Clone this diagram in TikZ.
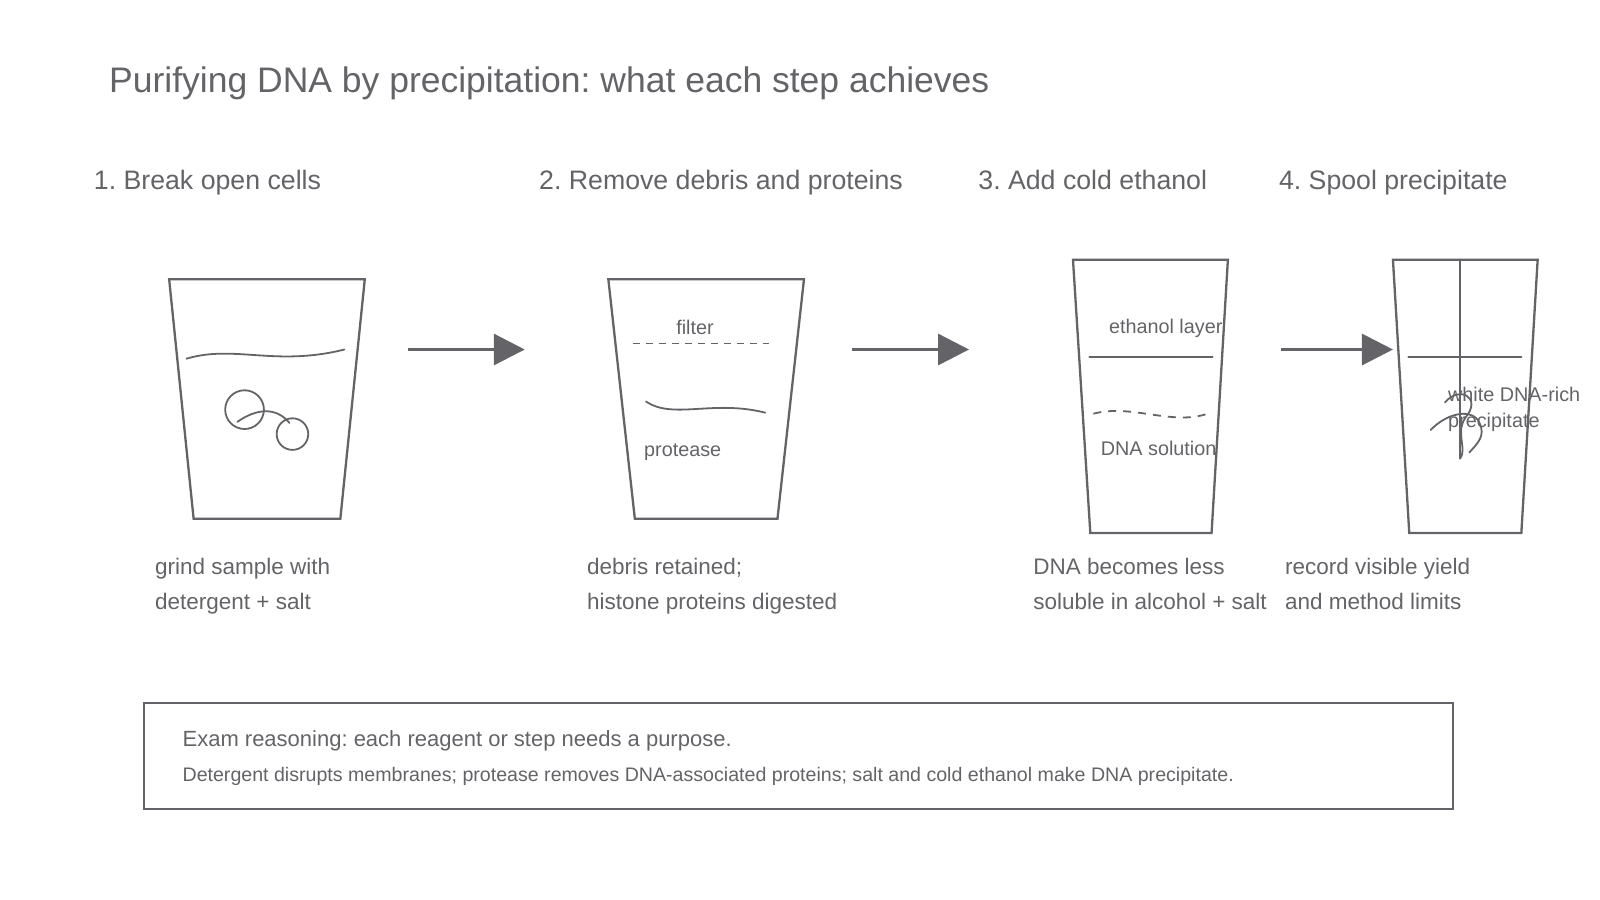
\documentclass[tikz,border=0pt]{standalone}
\usepackage{fontspec}
\setmainfont{Liberation Sans}
\usetikzlibrary{arrows.meta}
\definecolor{ink}{HTML}{646468}
\frenchspacing
\begin{document}
\begin{tikzpicture}[x=1.019pt,y=-1.019pt,
  every node/.style={text=ink,inner sep=0pt},
  glass/.style={draw=ink,line width=2.3pt,line join=miter},
  thin/.style={draw=ink,line width=1.8pt,line cap=round},
  flow/.style={draw=ink,line width=3.2pt,-{Triangle[length=31pt,width=31pt]}},
  head/.style={anchor=base west,font=\fontsize{26.7}{30}\selectfont},
  captxt/.style={anchor=north west,align=left,font=\fontsize{22.5}{35}\selectfont},
  lab/.style={font=\fontsize{19.8}{26}\selectfont}]
\useasboundingbox (0,0) rectangle (1570.2,883.2);
\node[anchor=base west,font=\fontsize{35.5}{40}\selectfont] (title) at (107,91) {Purifying DNA by precipitation: what each step achieves};
\node[head] (h1) at (92,186) {1. Break open cells};
\node[head] (h2) at (529,186) {2. Remove debris and proteins};
\node[head] (h3) at (960,186) {3. Add cold ethanol};
\node[head] (h4) at (1255,186) {4. Spool precipitate};
% beaker 1
\draw[glass] (166,274) -- (358,274) -- (334,509) -- (190,509) -- cycle;
\draw[thin] (183,352) .. controls (230,338) and (270,360) .. (338,343);
\draw[thin] (240,402) circle (19);
\draw[thin] (287,426) circle (15.5);
\draw[thin] (233,414) .. controls (250,402) and (270,398) .. (284,415);
% beaker 2
\draw[glass] (597,274) -- (789,274) -- (763,509) -- (623,509) -- cycle;
\draw[thin,dash pattern=on 7pt off 6pt,line cap=butt] (621,337) -- (755,337);
\node[lab] (f) at (682,321) {filter};
\draw[thin] (634,394) .. controls (660,412) and (700,392) .. (751,405);
\node[lab] (p) at (670,444) {protease};
% beaker 3
\draw[glass] (1053,255) -- (1205,255) -- (1189,523) -- (1070,523) -- cycle;
\draw[thin] (1069,350) -- (1190,350);
\node[lab] (e) at (1144,322) {ethanol layer};
\draw[thin,dash pattern=on 8pt off 7pt,line cap=butt] (1073,406) .. controls (1110,396) and (1150,418) .. (1185,406);
\node[lab] (d) at (1137,440) {DNA solution};
% beaker 4
\draw[glass] (1367,255) -- (1509,255) -- (1493,523) -- (1383,523) -- cycle;
\draw[thin] (1382,350) -- (1493,350);
\draw[thin] (1433,255) -- (1433,450);
\draw[thin] (1418,395) .. controls (1432,378) and (1455,390) .. (1438,410) .. controls (1428,425) and (1440,440) .. (1433,450);
\draw[thin] (1404,422) .. controls (1420,405) and (1445,400) .. (1452,415) .. controls (1458,428) and (1450,435) .. (1442,444);
\node[lab,anchor=west,align=left] (w) at (1421,402) {white DNA-rich\\precipitate};
% arrows
\coordinate (a1s) at (400,343); \coordinate (a1e) at (515,343);
\coordinate (a2s) at (836,343); \coordinate (a2e) at (951,343);
\coordinate (a3s) at (1257,343); \coordinate (a3e) at (1367,343);
\draw[flow] (a1s) -- (a1e);
\draw[flow] (a2s) -- (a2e);
\draw[flow] (a3s) -- (a3e);
% captions
\node[captxt] (c1) at (152,548) {grind sample with\\detergent + salt};
\node[captxt] (c2) at (576,548) {debris retained;\\histone proteins digested};
\node[captxt] (c3) at (1014,548) {DNA becomes less\\soluble in alcohol + salt};
\node[captxt] (c4) at (1261,548) {record visible yield\\and method limits};
% box
\draw[draw=ink,line width=2.3pt] (141,690) rectangle (1426,794);
\node[anchor=west,font=\fontsize{22}{24}\selectfont] (b1) at (179,727) {Exam reasoning: each reagent or step needs a purpose.};
\node[anchor=west,font=\fontsize{19.6}{21}\selectfont] (b2) at (179,762) {Detergent disrupts membranes; protease removes DNA-associated proteins; salt and cold ethanol make DNA precipitate.};
\end{tikzpicture}
\end{document}
